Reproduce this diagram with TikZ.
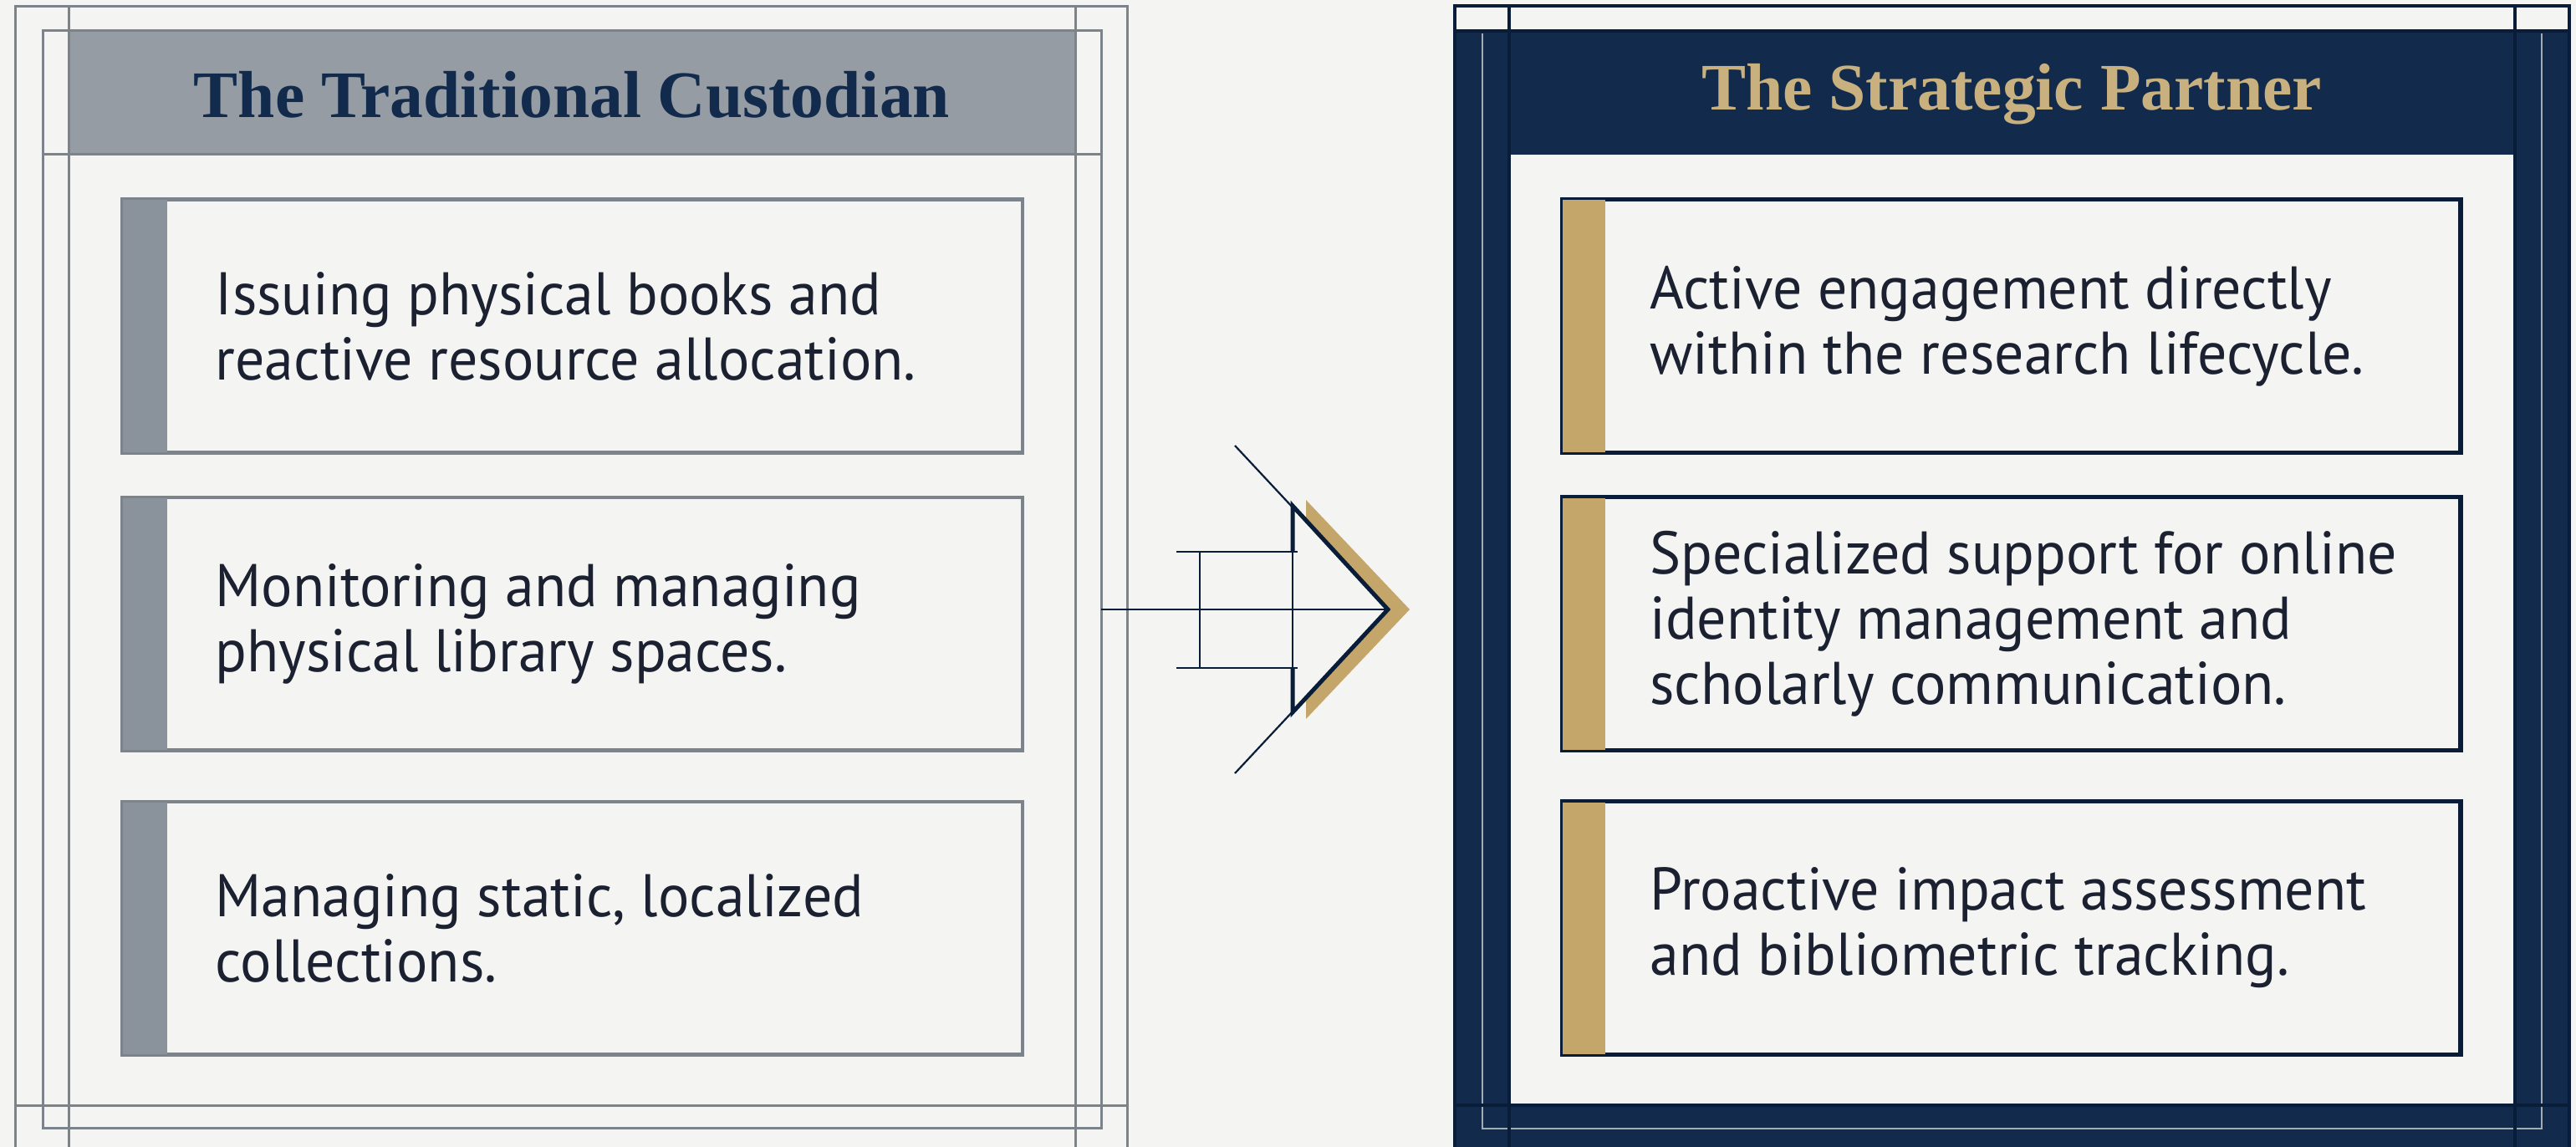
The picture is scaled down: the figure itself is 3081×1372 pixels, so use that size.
\documentclass[tikz,border=0pt]{standalone}
\usepackage{fontspec}
\setmainfont{Liberation Serif}
\newfontfamily\bodyfont{PT Sans}[FakeStretch=0.97]
\newfontfamily\headfont{Liberation Serif}
\usetikzlibrary{positioning,calc}

\definecolor{paper}{HTML}{F4F4F2}
\definecolor{slate}{HTML}{7C838B}
\definecolor{slatefill}{HTML}{959CA4}
\definecolor{slatebar}{HTML}{8A939C}
\definecolor{navy}{HTML}{122B4D}
\definecolor{navydeep}{HTML}{0A1D38}
\definecolor{pale}{HTML}{A3ABB3}
\definecolor{gold}{HTML}{C4A66B}
\definecolor{goldtext}{HTML}{C9B07F}
\definecolor{ink}{HTML}{1B2130}

\begin{document}
\begin{tikzpicture}
                [x=1pt, y=-1pt,
                  guide/.style={draw=slate, line width=3pt},
                  navyline/.style={draw=navydeep, line width=3.5pt},
                  paleline/.style={draw=pale, line width=2.5pt},
                  lcard/.style={draw=slate, line width=3pt, fill=paper, minimum width=1075pt, minimum height=301pt, inner sep=0pt},
                  rcard/.style={draw=navydeep, line width=3.5pt, fill=paper, minimum width=1073pt, minimum height=301pt, inner sep=0pt},
                  cardtext/.style={anchor=west, inner sep=0pt, align=left, text=ink, font=\bodyfont\fontsize{72}{78}\selectfont},
                  lhead/.style={font=\headfont\bfseries\fontsize{79.5}{82}\selectfont, text=navy},
                  rhead/.style={font=\headfont\bfseries\fontsize{79.5}{82}\selectfont, text=goldtext},
                  sketch/.style={draw=navydeep, line width=2.2pt},
                ]
                \fill[paper] (0,0) rectangle (3081,1372);
                \useasboundingbox (0,0) rectangle (3081,1372);

                % left panel
                \fill[slatefill] (82,37) rectangle (1286,185);
                \draw[guide] (18,1372) -- (18,8) -- (1348,8) -- (1348,1372);
                \draw[guide] (18,1322) -- (1348,1322);
                \draw[guide] (51,37) rectangle (1317,1349);
                \draw[guide] (51,185) -- (1317,185);
                \draw[guide] (82,8) -- (82,1372);
                \draw[guide] (1286,8) -- (1286,1372);
                \node[lhead] (custodian) at (684,113) {The Traditional Custodian};

                \node[lcard] (issue) at (684.5,390) {};
                \node[lcard] (monitor) at (684.5,746) {};
                \node[lcard] (collect) at (684.5,1110) {};
                \fill[slatebar] (issue.north west) rectangle ([xshift=54pt]issue.south west);
                \fill[slatebar] (monitor.north west) rectangle ([xshift=54pt]monitor.south west);
                \fill[slatebar] (collect.north west) rectangle ([xshift=54pt]collect.south west);
                \draw[guide] (issue.north west) rectangle (issue.south east);
                \draw[guide] (monitor.north west) rectangle (monitor.south east);
                \draw[guide] (collect.north west) rectangle (collect.south east);
                \node[cardtext] (issuetext) at ([xshift=112pt]issue.west) {Issuing physical books and\\reactive resource allocation.};
                \node[cardtext] (monitortext) at ([xshift=112pt]monitor.west) {Monitoring and managing\\physical library spaces.};
                \node[cardtext] (collecttext) at ([xshift=112pt]collect.west) {Managing static, localized\\collections.};

                % right panel
                \fill[navy] (1740,37) rectangle (3073,1372);
                \fill[paper] (1805,185) rectangle (3008,1320);
                \draw[navyline] (1740,1372) -- (1740,7) -- (3073,7) -- (3073,1372);
                \draw[navyline] (1740,37) -- (3073,37);
                \draw[paleline] (1773,40) -- (1773,1350) -- (3040,1350) -- (3040,40);
                \draw[navyline] (1740,1322) -- (3073,1322);
                \draw[navyline] (1805,7) -- (1805,1372);
                \draw[navyline] (3008,7) -- (3008,1372);
                \node[rhead] (partner) at (2406,113) {The Strategic Partner};

                \node[rcard] (engage) at (2405.5,390) {};
                \node[rcard] (support) at (2405.5,746) {};
                \node[rcard] (impact) at (2405.5,1110) {};
                \fill[gold] (engage.north west) rectangle ([xshift=53pt]engage.south west);
                \fill[gold] (support.north west) rectangle ([xshift=53pt]support.south west);
                \fill[gold] (impact.north west) rectangle ([xshift=53pt]impact.south west);
                \draw[navyline] (engage.north west) rectangle (engage.south east);
                \draw[navyline] (support.north west) rectangle (support.south east);
                \draw[navyline] (impact.north west) rectangle (impact.south east);
                \node[cardtext] (engagetext) at ([xshift=106pt]engage.west) {Active engagement directly\\within the research lifecycle.};
                \node[cardtext] (supporttext) at ([xshift=106pt]support.west) {Specialized support for online\\identity management and\\scholarly communication.};
                \node[cardtext] (impacttext) at ([xshift=106pt]impact.west) {Proactive impact assessment\\and bibliometric tracking.};

                % arrow between the panels
                \coordinate (stem) at (1317,729);
                \coordinate (tip) at (1660,729);
                \coordinate (upfar) at (1477,533);
                \coordinate (lofar) at (1477,925);
                \coordinate (upnear) at (1546,605);
                \coordinate (lonear) at (1546,852);
                \coordinate (uprail) at (1546,660);
                \coordinate (lorail) at (1546,799);
                \fill[gold] (1562,598) -- (1686,729) -- (1562,860) -- (1562,835) -- (1663,729) -- (1562,624) -- cycle;
                \draw[sketch] (upfar) -- (tip) -- (lofar);
                \draw[sketch] (stem) -- (tip);
                \draw[sketch] (upnear) -- (lonear);
                \draw[sketch] (1407,660) -- (1552,660);
                \draw[sketch] (1407,799) -- (1552,799);
                \draw[sketch] (1435,660) -- (1435,799);
                \draw[draw=navydeep, line width=5pt, line join=miter] (uprail) -- (upnear) -- (tip) -- (lonear) -- (lorail);
\end{tikzpicture}
\end{document}
